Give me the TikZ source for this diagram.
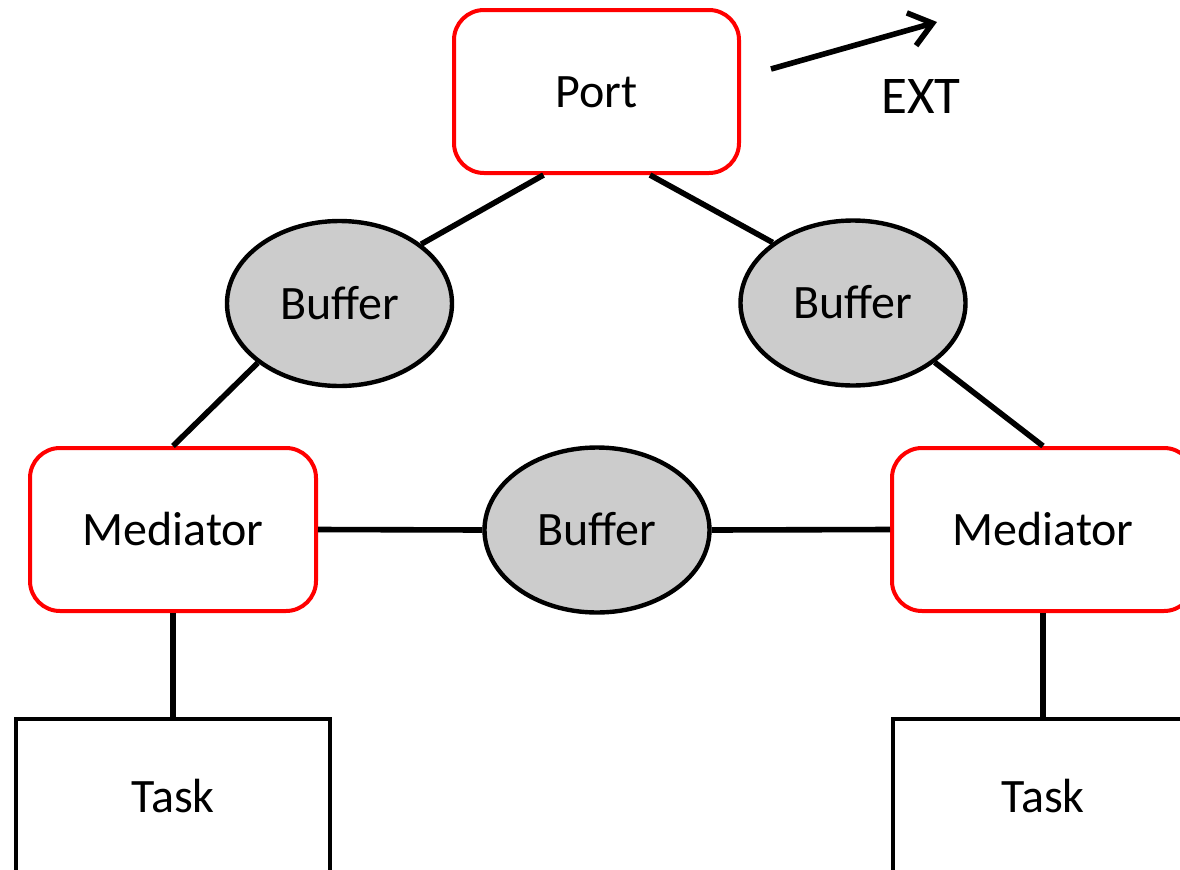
\documentclass[tikz,border=0pt]{standalone}
\usepackage{fontspec}
\setmainfont{Carlito}
\usetikzlibrary{shapes.geometric,arrows.meta,calc}
\definecolor{bufgray}{HTML}{CCCCCC}
\definecolor{ctrlred}{HTML}{FF0000}

\begin{document}
\begin{tikzpicture}[x=0.5pt,y=-0.5pt,
  lbl/.style={font=\fontsize{24}{29}\selectfont, text height=15.5pt, text depth=0pt},
  biglbl/.style={font=\fontsize{26.5}{32}\selectfont, text height=17pt, text depth=0pt, inner sep=0pt},
  ctrl/.style={lbl, rectangle, draw=ctrlred, line width=2pt, rounded corners=15pt,
               fill=white, inner sep=0pt, minimum height=81.5pt},
  buf/.style={lbl, ellipse, draw=black, line width=2.2pt, fill=bufgray, inner sep=0pt,
              minimum width=112.5pt, minimum height=82.5pt},
  taskbox/.style={lbl, rectangle, draw=black, line width=2.2pt, fill=white, inner sep=0pt,
                  minimum height=78pt},
  link/.style={draw=black, line width=2.8pt}]

\useasboundingbox (0,0) rectangle (1180,869);
\clip (0,0) rectangle (1180,869);

\path (596.5,91.5) coordinate (portc)
      (339.5,303.5) coordinate (bufLc)
      (853,303) coordinate (bufRc)
      (597,530) coordinate (bufMc);

% port and external link
\node[ctrl, minimum width=142.5pt] (port) at (portc) {Port};
\coordinate (extS) at (771,69);
\coordinate (extE) at (937,22);
\draw[link, -{Straight Barb[length=11pt, width=17pt, line width=2.8pt]}] (extS) -- (extE);
\node[biglbl] (ext) at (921,96.7) {EXT};

% buffers
\node[buf] (bufL) at (bufLc) {Buffer};
\node[buf] (bufR) at (bufRc) {Buffer};
\node[buf] (bufM) at (bufMc) {Buffer};

% mediators
\node[ctrl, minimum width=143pt] (medL) at (173,529.5) {Mediator};
\node[ctrl, minimum width=151pt] (medR) at (1043,529.5) {Mediator};

% tasks
\node[taskbox, minimum width=157pt] (taskL) at (173,797) {Task};
\node[taskbox, minimum width=150pt] (taskR) at (1043,797) {Task};

% links between the components
\draw[link] ($(port.south)+(-53,0)$) -- (bufL.36.9);
\draw[link] ($(port.south)+(53.5,0)$) -- (bufR.143);
\draw[link] (bufL.216.6) -- (medL.north);
\draw[link] (bufR.-36.6) -- (medR.north);
\draw[link] (medL.east) -- (bufM.west);
\draw[link] (bufM.east) -- (medR.west);
\draw[link] (medL.south) -- (taskL.north);
\draw[link] (medR.south) -- (taskR.north);
\end{tikzpicture}
\end{document}
